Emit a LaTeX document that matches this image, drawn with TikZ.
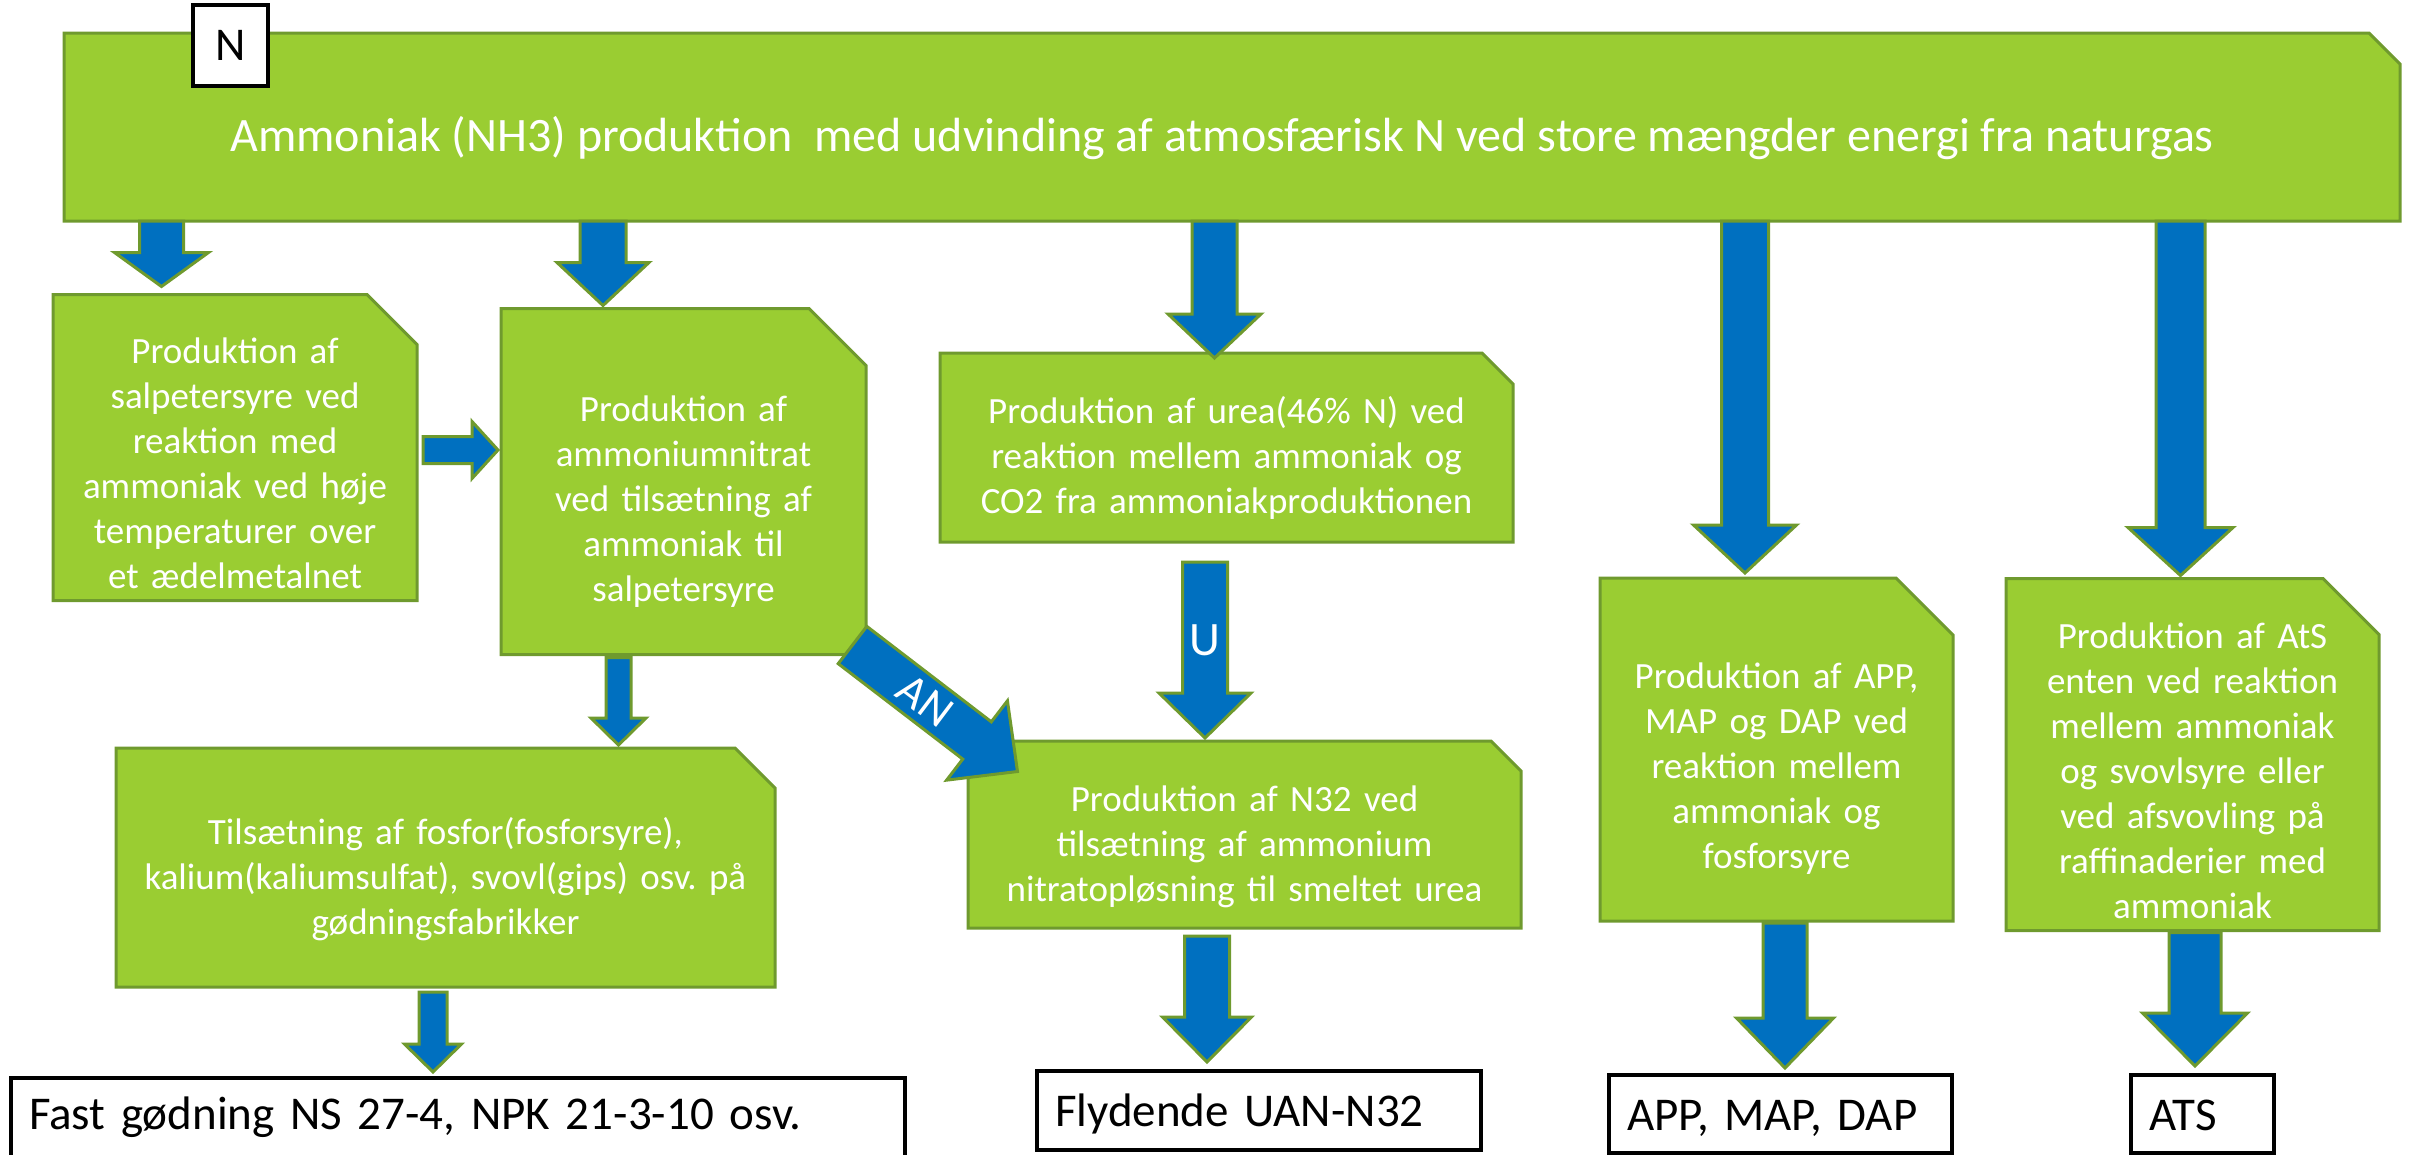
\documentclass[tikz,border=0pt]{standalone}
\usepackage{fontspec}
\setmainfont{Carlito}
\usepackage{tikz}
\usetikzlibrary{positioning,calc,backgrounds}
\definecolor{leaf}{HTML}{9ACD32}
\definecolor{leafedge}{HTML}{6F9A2E}
\definecolor{flow}{HTML}{0070C0}
\frenchspacing

\newcommand\boxfont{\fontsize{37}{45}\selectfont}
\newcommand\headfont{\fontsize{48}{58}\selectfont}
\newcommand\prodfont{\fontsize{47}{56}\selectfont}
% fixed line pitch of 45pt inside the green boxes
\newcommand\lnstrut{\rule[-12pt]{0pt}{44pt}}
\newcommand\topgap[1]{\rule[-12pt]{0pt}{\dimexpr#1pt+12pt\relax}}
\newcommand\nl{\\\lnstrut}

% green box with the top right corner cut off
\newcommand\snipbox[2]{%
  \filldraw[snip] (#1.south west) -- (#1.north west) -- ([xshift=-#2pt]#1.north east)
    -- ([yshift=-#2pt]#1.north east) -- (#1.south east) -- cycle;}

% block arrow from #1 to #2: shaft width #3, head width #4, head length #5
\newcommand\blockarrow[5]{%
  \path let \p1=(#1), \p2=(#2) in
    \pgfextra{\pgfmathsetmacro\baang{atan2(\y2-\y1,\x2-\x1)}%
              \pgfmathsetmacro\balen{veclen(\x2-\x1,\y2-\y1)}%
              \xdef\baang{\baang}\xdef\balen{\balen}\xdef\bax{\x1}\xdef\bay{\y1}};
  \draw[barrow, shift={(\bax,\bay)}, rotate=\baang]
    (0,-#3/2) -- (\balen-#5,-#3/2) -- (\balen-#5,-#4/2) -- (\balen,0)
    -- (\balen-#5,#4/2) -- (\balen-#5,#3/2) -- (0,#3/2) -- cycle;}

\begin{document}
\begin{tikzpicture}[
  x=1pt, y=-1pt,
  box/.style={text=white, font=\boxfont, align=center, inner sep=0pt, outer sep=0pt},
  snip/.style={fill=leaf, draw=leafedge, line width=3pt, line join=miter},
  barrow/.style={fill=flow, draw=leafedge, line width=3pt, line join=miter},
  product/.style={draw=black, line width=4pt, fill=white, font=\prodfont, align=left,
                  inner xsep=18pt, inner ysep=0pt, outer sep=0pt,
                  text height=42pt, text depth=10pt},
  tag/.style={text=white, inner sep=0pt}
]
\useasboundingbox (0,0) rectangle (2409,1154);

% Row 1 -- the ammonia plant
\node[box, font=\headfont, minimum width=2336pt, minimum height=188pt,
      text height=61pt, text depth=12pt] (ammonia) at (1232,127)
  {\hspace*{-20pt}Ammoniak (NH3) produktion\ \ med udvinding af atmosfærisk N ved store mængder energi fra naturgas};
\node[draw=black, line width=4pt, fill=white, font=\prodfont, inner sep=0pt,
      minimum width=75pt, minimum height=81pt] (nlabel) at (230.5,45.5) {N};

% Row 2 -- first products
\node[box, text width=364pt, minimum height=301pt] (salp) at (235,447.5)
  {\topgap{69}Produktion af\nl salpetersyre ved\nl reaktion med\nl ammoniak ved høje\nl temperaturer over\nl et ædelmetalnet};
\node[box, text width=365pt, minimum height=346pt,
      below right=14pt and 84pt of salp.north east] (amnit)
  {\topgap{71}Produktion af\nl ammoniumnitrat\nl ved tilsætning af\nl ammoniak til\nl salpetersyre};
\node[box, text width=573pt, minimum height=189pt] (urea) at (1226.5,447.5)
  {\topgap{54}Produktion af urea(46\% N) ved\nl reaktion mellem ammoniak og\nl CO2 fra ammoniakproduktionen};
\node[box, text width=353pt, minimum height=343pt] (app) at (1776.5,749.5)
  {\topgap{70}Produktion af APP,\nl MAP og DAP ved\nl reaktion mellem\nl ammoniak og\nl fosforsyre};
\node[box, text width=373pt, minimum height=345pt] (ats) at (2192.5,754.5)
  {\topgap{70}Produktion af AtS\nl enten ved reaktion\nl mellem ammoniak\nl og svovlsyre eller\nl ved afsvovling på\nl raffinaderier med\nl ammoniak};

% Row 3 -- mixing
\node[box, text width=659pt, minimum height=239pt] (tils) at (445.5,867.5)
  {\topgap{56}Tilsætning af fosfor(fosforsyre),\nl kalium(kaliumsulfat), svovl(gips) osv. på\nl gødningsfabrikker};
\node[box, text width=553pt, minimum height=187pt] (n32) at (1244.5,834.5)
  {\topgap{56}Produktion af N32 ved\nl tilsætning af ammonium\nl nitratopløsning til smeltet urea};

% Row 4 -- what leaves the factory
\node[product, text width=858pt, minimum height=84pt, text height=28pt] (fast) at (458,1120)
  {Fast gødning NS 27-4, NPK 21-3-10 osv.};
\node[product, text width=408pt, minimum height=79pt, below=143pt of n32, xshift=14.5pt] (fly)
  {Flydende UAN-N32};
\node[product, text width=307pt, minimum height=78pt] (apd) at (1780.5,1114) {APP, MAP, DAP};
\node[product, text width=107pt, minimum height=78pt] (atsf) at (2202.5,1114) {ATS};

% arrow tips, taken from the boxes they point at
\coordinate (t1) at ([xshift=-73.5pt, yshift=8pt]salp.north);
\coordinate (t2) at ([xshift=-80.5pt, yshift=3pt]amnit.north);
\coordinate (t3) at ([xshift=-12pt, yshift=-5pt]urea.north);
\coordinate (t4) at ([xshift=-31.5pt, yshift=5pt]app.north);
\coordinate (t5) at ([xshift=-12pt, yshift=3pt]ats.north);
\coordinate (t6) at ([xshift=-3pt, yshift=31.5pt]amnit.west);
\coordinate (t7) at ([xshift=173pt, yshift=3pt]tils.north);
\coordinate (t8) at ([xshift=-39.5pt, yshift=3pt]n32.north);
\coordinate (t9) at ([xshift=-52pt, yshift=9pt]fly.north);
\coordinate (t10) at ([xshift=-25pt, yshift=6pt]fast.north);
\coordinate (t11) at ([xshift=4.5pt, yshift=7pt]apd.north);
\coordinate (t12) at ([xshift=-7.5pt, yshift=9pt]atsf.north);
\coordinate (ans) at ([xshift=-13.5pt, yshift=9.5pt]amnit.south east);
\coordinate (ant) at ([xshift=49.5pt, yshift=-30.5pt]n32.north west);

\blockarrow{t1 |- ammonia.south}{t1}{44}{94}{34}
\blockarrow{t2 |- ammonia.south}{t2}{46}{92}{43}
\blockarrow{t3 |- ammonia.south}{t3}{45}{93}{44}
\blockarrow{t4 |- ammonia.south}{t4}{47}{103}{48}
\blockarrow{t5 |- ammonia.south}{t5}{49}{105}{48}
\blockarrow{$(t6 -| salp.east)+(6,0)$}{t6}{27}{57}{26}
\blockarrow{$(t7 |- amnit.south)+(0,3)$}{t7}{25}{55}{27}
\blockarrow{ans}{ant}{47}{100}{51}
\blockarrow{$(t8 |- urea.south)+(0,20)$}{t8}{45}{92}{45}
\blockarrow{$(t9 |- n32.south)+(0,8)$}{t9}{45}{89}{45}
\blockarrow{$(t10 |- tils.south)+(0,5)$}{t10}{28}{57}{28}
\blockarrow{$(t11 |- app.south)+(0,2)$}{t11}{44}{97}{50}
\blockarrow{$(t12 |- ats.south)+(0,2)$}{t12}{52}{105}{53}

\node[tag, font=\fontsize{46}{55}\selectfont, rotate=-37] (anlab) at ($(ans)!0.44!(ant)$) {AN};
\node[tag, font=\fontsize{48}{58}\selectfont] (ulab) at ($(t8 |- urea.south)+(0,98)$) {U};

\begin{scope}[on background layer]
\snipbox{ammonia}{31}
\snipbox{salp}{50}
\snipbox{amnit}{57}
\snipbox{urea}{31}
\snipbox{app}{57}
\snipbox{ats}{56}
\snipbox{tils}{40}
\snipbox{n32}{30}
\end{scope}

\end{tikzpicture}
\end{document}
